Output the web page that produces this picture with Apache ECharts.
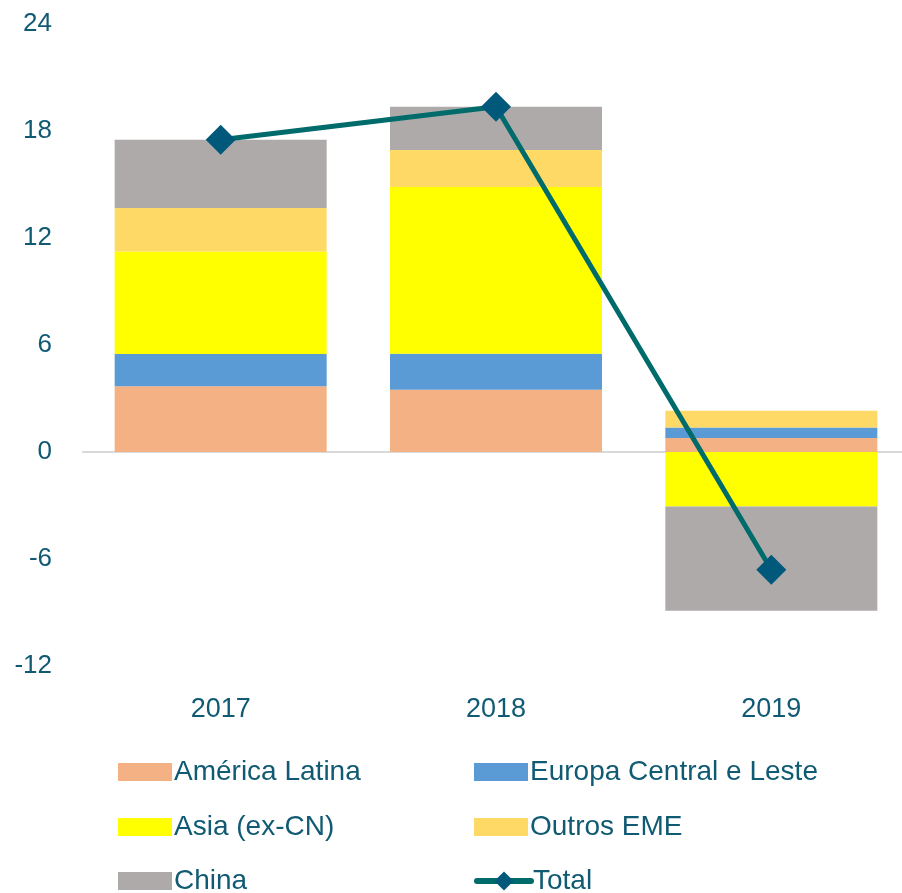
<!DOCTYPE html>
<html>
<head>
<meta charset="utf-8">
<script src="https://cdn.jsdelivr.net/npm/echarts@6/dist/echarts.min.js"></script>
<style>
  html, body { margin: 0; padding: 0; background: #fff; overflow: hidden; }
  #chart { width: 909px; height: 893px; }
</style>
</head>
<body>
<div id="chart"></div>
<script>
// categorias e valores
const years = ["2017", "2018", "2019"];
const americaLatina = [3.68, 3.49, 0.79];
const europaCentral = [1.82, 2.02, 0.59];
const asiaExCN = [5.75, 9.35, -3.05];
const outrosEME = [2.43, 2.07, 0.94];
const china = [3.83, 2.43, -5.85];
const total = [17.51, 19.36, -6.6];

const textColor = "#105a73";
const font = "'Liberation Sans', sans-serif";

let chart = echarts.init(document.getElementById("chart"));

function barSeries(name, data, color) {
  return {
    name: name,
    type: "bar",
    stack: "eme",
    barCategoryGap: "23%",
    itemStyle: { color: color },
    data: data
  };
}

// um legend por item para montar a grade 2 x 3
function legendAt(name, left, top, isLine) {
  let lg = {
    data: [name],
    left: left,
    top: top,
    padding: 0,
    itemWidth: 54,
    itemHeight: 18,
    itemGap: 0,
    textStyle: { color: textColor, fontSize: 28, fontFamily: font, padding: [0, 0, 0, -3] }
  };
  if (isLine) {
    lg.itemHeight = 24;
    lg.lineStyle = { width: 6, cap: "round" };
  } else {
    lg.icon = "rect";
  }
  return lg;
}

chart.setOption({
  animation: false,
  grid: { left: 83, top: 24, right: 0, height: 642, containLabel: false },
  legend: [
    legendAt("América Latina", 118, 758),
    legendAt("Europa Central e Leste", 474, 758),
    legendAt("Asia (ex-CN)", 118, 813),
    legendAt("Outros EME", 474, 813),
    legendAt("China", 118, 867),
    legendAt("Total", 474, 867, true)
  ],
  xAxis: [
    {
      type: "category",
      data: years,
      position: "bottom",
      axisLine: { show: false, onZero: false },
      axisTick: { show: false },
      axisLabel: { color: textColor, fontSize: 27, fontFamily: font, margin: 30 }
    },
    {
      // linha do zero
      type: "category",
      data: years,
      axisLine: { show: true, onZero: true, lineStyle: { color: "#d9d9d9", width: 2 } },
      axisTick: { show: false },
      axisLabel: { show: false }
    }
  ],
  yAxis: {
    type: "value",
    min: -12,
    max: 24,
    interval: 6,
    axisLine: { show: false },
    axisTick: { show: false },
    splitLine: { show: false },
    axisLabel: { color: textColor, fontSize: 26, fontFamily: font, margin: 31 }
  },
  series: [
    barSeries("América Latina", americaLatina, "#f4b183"),
    barSeries("Europa Central e Leste", europaCentral, "#5b9bd5"),
    barSeries("Asia (ex-CN)", asiaExCN, "#ffff00"),
    barSeries("Outros EME", outrosEME, "#ffd966"),
    barSeries("China", china, "#aeaaaa"),
    {
      name: "Total",
      type: "line",
      data: total,
      symbol: "diamond",
      symbolSize: 30,
      lineStyle: { color: "#006b6b", width: 5 },
      itemStyle: { color: "#00587a", borderWidth: 0 },
      z: 5
    }
  ]
});
</script>
</body>
</html>
